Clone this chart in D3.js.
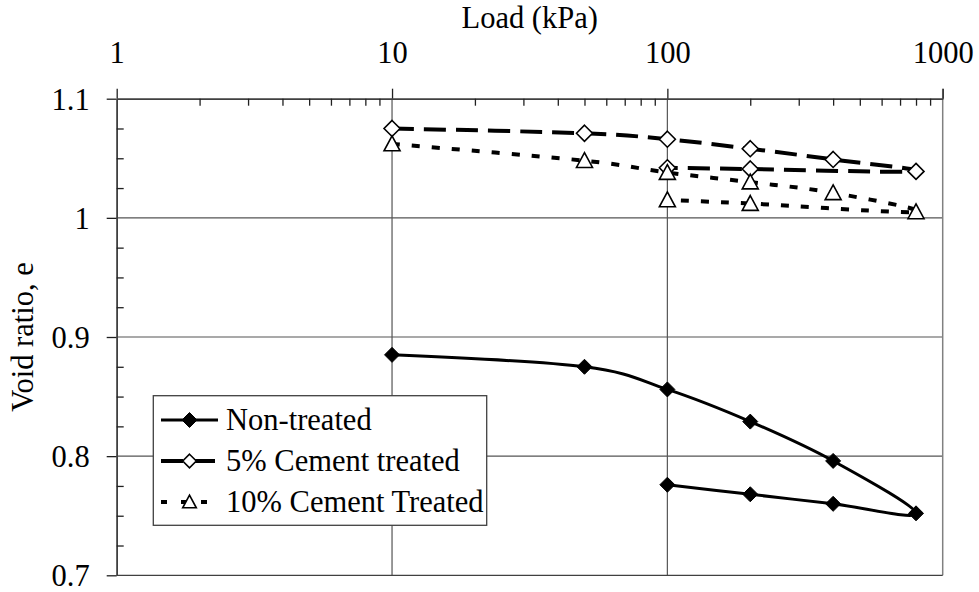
<!DOCTYPE html>
<html>
<head>
<meta charset="utf-8">
<script src="https://cdn.jsdelivr.net/npm/d3@7"></script>
<style>
  html, body { margin: 0; padding: 0; background: #fff; }
  svg { display: block; }
  text { font-family: "Liberation Serif", "Times New Roman", "DejaVu Serif", serif; fill: #000; }
</style>
</head>
<body>
<div id="chart"></div>
<script>
// ---- data ----
const xTickValues = [1, 10, 100, 1000];
const xTickLabels = ["1", "10", "100", "1000"];
const yTickValues = [0.7, 0.8, 0.9, 1.0, 1.1];
const yTickLabels = ["0.7", "0.8", "0.9", "1", "1.1"];

const seriesNames = ["Non-treated", "5% Cement treated", "10% Cement Treated"];

const loadNon = [10, 50, 100, 200, 400, 800, 400, 200, 100];
const eNon    = [0.885, 0.875, 0.856, 0.829, 0.796, 0.752, 0.760, 0.768, 0.776];

const load5 = [10, 50, 100, 200, 400, 800, 200, 100];
const e5    = [1.075, 1.071, 1.066, 1.058, 1.049, 1.039, 1.041, 1.042];

const load10 = [10, 50, 100, 200, 400, 800, 200, 100];
const e10    = [1.062, 1.048, 1.038, 1.030, 1.021, 1.005, 1.012, 1.015];

// ---- layout ----
const W = 979, H = 592;
const L = 116.7, R = 942.7, T = 98.7, B = 575.3;
const FS = 30.5;
const FONT = "Liberation Serif, Times New Roman, DejaVu Serif, serif";

const svg = d3.select("#chart").append("svg").attr("width", W).attr("height", H);

const x = d3.scaleLog().domain([1, 1000]).range([L, R]);
const y = d3.scaleLinear().domain([0.7, 1.1]).range([B, T]);

const gridColor = "#555";

// gridlines
svg.append("g").selectAll("line.h").data([0.8, 0.9, 1.0]).join("line")
  .attr("x1", L).attr("x2", R).attr("y1", d => y(d)).attr("y2", d => y(d))
  .attr("stroke", gridColor).attr("stroke-width", 1.2);
svg.append("g").selectAll("line.v").data([10, 100]).join("line")
  .attr("y1", T).attr("y2", B).attr("x1", d => x(d)).attr("x2", d => x(d))
  .attr("stroke", gridColor).attr("stroke-width", 1.2);

// frame: right edge and bottom
svg.append("line").attr("x1", R).attr("x2", R).attr("y1", T - 10).attr("y2", B)
  .attr("stroke", "#808080").attr("stroke-width", 1.5);
svg.append("line").attr("x1", L).attr("x2", R).attr("y1", B).attr("y2", B)
  .attr("stroke", "#404040").attr("stroke-width", 1.3);

// top axis
const minorX = [];
[1, 10, 100].forEach(d => { for (let k = 2; k <= 9; k++) minorX.push(d * k); });

const topMajor = svg.append("g").attr("transform", `translate(0,${T})`)
  .call(d3.axisTop(x).tickValues(xTickValues).tickSize(10).tickSizeOuter(0)
    .tickFormat((d, i) => xTickLabels[i]));
const topMinor = svg.append("g").attr("transform", `translate(0,${T})`)
  .call(d3.axisTop(x).tickValues(minorX).tickSize(-7).tickSizeOuter(0).tickFormat(""));

// left axis
const minorY = d3.range(0, 17).map(i => 0.7 + i * 0.025).filter(v => Math.abs((v * 10) - Math.round(v * 10)) > 1e-6);
const leftMajor = svg.append("g").attr("transform", `translate(${L},0)`)
  .call(d3.axisLeft(y).tickValues(yTickValues).tickSize(10).tickSizeOuter(0)
    .tickFormat((d, i) => yTickLabels[i]));
const leftMinor = svg.append("g").attr("transform", `translate(${L},0)`)
  .call(d3.axisLeft(y).tickValues(minorY).tickSize(-7).tickSizeOuter(0).tickFormat(""));

[topMajor, topMinor, leftMajor, leftMinor].forEach(g => {
  g.attr("font-family", FONT).attr("font-size", FS);
  g.selectAll(".domain").attr("stroke", "#404040").attr("stroke-width", 1.5);
  g.selectAll(".tick line").attr("stroke", "#202020").attr("stroke-width", 1.3);
  g.selectAll("text").attr("font-family", FONT).attr("font-size", FS).attr("fill", "#000");
});
topMajor.selectAll(".tick text").attr("y", -36);
leftMajor.selectAll(".tick text").attr("x", -27).attr("dy", "0.34em");

// axis titles
svg.append("text").attr("x", (L + R) / 2).attr("y", 28).attr("text-anchor", "middle")
  .attr("font-family", FONT).attr("font-size", FS).text("Load (kPa)");
svg.append("text").attr("transform", `translate(33,${(T + B) / 2}) rotate(-90)`)
  .attr("text-anchor", "middle").attr("font-family", FONT).attr("font-size", FS).text("Void ratio, e");

// ---- series ----
const line = d3.line().x(d => x(d[0])).y(d => y(d[1])).curve(d3.curveCatmullRom.alpha(0));

const styles = [
  { dash: null, width: 3, marker: "diamondFilled" },
  { dash: "22,10", width: 4, marker: "diamondOpen" },
  { dash: "8,12", width: 4, marker: "triangleOpen" }
];

const seriesData = [
  d3.zip(loadNon, eNon),
  d3.zip(load5, e5),
  d3.zip(load10, e10)
];

function drawMarker(g, type, cx, cy, scale) {
  const s = scale || 1;
  if (type === "diamondFilled") {
    const r = 7.5 * s;
    g.append("path").attr("d", `M${cx},${cy - r}L${cx + r},${cy}L${cx},${cy + r}L${cx - r},${cy}Z`)
      .attr("fill", "#000").attr("stroke", "#000").attr("stroke-width", 1);
  } else if (type === "diamondOpen") {
    const r = 8 * s;
    g.append("path").attr("d", `M${cx},${cy - r}L${cx + r},${cy}L${cx},${cy + r}L${cx - r},${cy}Z`)
      .attr("fill", "#fff").attr("stroke", "#000").attr("stroke-width", 1.6);
  } else {
    const r = 8 * s;
    g.append("path").attr("d", `M${cx},${cy - r}L${cx + r},${cy + r * 0.85}L${cx - r},${cy + r * 0.85}Z`)
      .attr("fill", "#fff").attr("stroke", "#000").attr("stroke-width", 1.6);
  }
}

seriesData.forEach((data, i) => {
  const st = styles[i];
  const g = svg.append("g");
  g.append("path").datum(data).attr("d", line)
    .attr("fill", "none").attr("stroke", "#000").attr("stroke-width", st.width)
    .attr("stroke-dasharray", st.dash);
  data.forEach(d => drawMarker(g, st.marker, x(d[0]), y(d[1])));
});

// ---- legend ----
const LX = 153.3, LY = 395.7, LW = 333.4, LH = 129.6;
const leg = svg.append("g");
leg.append("rect").attr("x", LX).attr("y", LY).attr("width", LW).attr("height", LH)
  .attr("fill", "#fff").attr("stroke", "#404040").attr("stroke-width", 1.3);
const rowY = [420, 461, 502];
seriesNames.forEach((name, i) => {
  const st = styles[i];
  const cy = rowY[i];
  leg.append("line").attr("x1", 161).attr("x2", 218).attr("y1", cy).attr("y2", cy)
    .attr("stroke", "#000").attr("stroke-width", st.width)
    .attr("stroke-dasharray", i === 2 ? "6,14" : st.dash);
  drawMarker(leg, st.marker, 189.5, cy, i === 0 ? 1 : 0.85);
  leg.append("text").attr("x", 226).attr("y", cy).attr("dy", "0.34em")
    .attr("font-family", FONT).attr("font-size", FS).text(name);
});
</script>
</body>
</html>
